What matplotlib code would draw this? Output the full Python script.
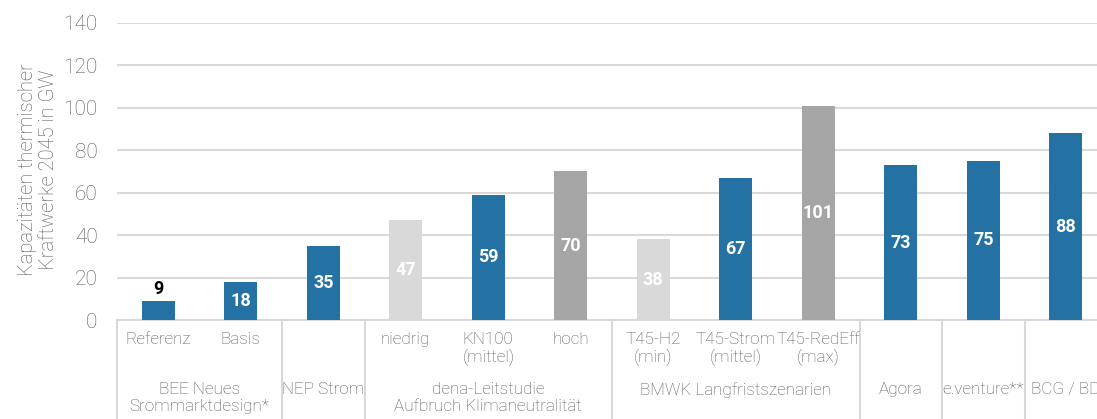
import matplotlib
matplotlib.use("Agg")
import matplotlib.pyplot as plt
import matplotlib.transforms as mtransforms

# data
scenarios = ["Referenz", "Basis", "", "niedrig", "KN100\n(mittel)", "hoch",
             "T45-H2\n(min)", "T45-Strom\n(mittel)", "T45-RedEff\n(max)", "", "", ""]
values = [9, 18, 35, 47, 59, 70, 38, 67, 101, 73, 75, 88]
kinds = ["b", "b", "b", "l", "b", "m", "l", "b", "m", "b", "b", "b"]
groups = ["BEE Neues\nSrommarktdesign*", "NEP Strom", "dena-Leitstudie\nAufbruch Klimaneutralität",
          "BMWK Langfristszenarien", "Agora", "e.venture**", "BCG / BD"]
group_sizes = [2, 1, 3, 3, 1, 1, 1]

colors = {"b": "#2372A3", "l": "#D9D9D9", "m": "#A5A5A5"}
GRID = "#D9D9D9"
TXT = "#595959"
plt.rcParams["font.family"] = ["Roboto", "DejaVu Sans"]

fig = plt.figure(figsize=(10.97, 4.19), dpi=100)
W, H = 1097, 419
ax = fig.add_axes([117 / W, 99 / H, (W - 117) / W, (320 - 23) / H])

x = list(range(len(values)))
ax.bar(x, values, width=0.4, color=[colors[k] for k in kinds], zorder=3)
ax.set_xlim(-0.5, (W - 117) / 82.5 - 0.5)
ax.set_ylim(0, 140)
ax.set_yticks(range(0, 141, 20))
ax.tick_params(axis="y", length=0, pad=14, labelsize=15, labelcolor=TXT)
for lab in ax.get_yticklabels():
    lab.set_fontweight("light")
ax.set_xticks([])
ax.grid(axis="y", color=GRID, linewidth=1.5, zorder=0)
for s in ["top", "right", "left"]:
    ax.spines[s].set_visible(False)
ax.spines["bottom"].set_color(GRID)
ax.spines["bottom"].set_linewidth(1.5)

# value labels
for xi, v, k in zip(x, values, kinds):
    if v < 12:
        ax.text(xi, v + 1.5, str(v), ha="center", va="bottom", fontsize=13,
                fontweight="bold", color="black")
    else:
        ax.text(xi, v / 2, str(v), ha="center", va="center", fontsize=13,
                fontweight="bold", color="white", zorder=4)

trans = mtransforms.blended_transform_factory(ax.transData, ax.transAxes)
for xi, s in zip(x, scenarios):
    if s:
        ax.text(xi, -12 / 297, s, transform=trans, ha="center", va="top",
                fontsize=12.3, color=TXT, fontweight="light", linespacing=1.15)

start = 0
seps = [-0.5]
for g, n in zip(groups, group_sizes):
    ax.text(start + (n - 1) / 2, -62 / 297, g, transform=trans, ha="center", va="top",
            fontsize=12.3, color=TXT, fontweight="light", linespacing=1.15)
    start += n
    seps.append(start - 0.5)
for sx in seps:
    ax.plot([sx, sx], [0, -0.4], transform=trans, color=GRID, linewidth=1.5, clip_on=False)

fig.text(38 / W, 1 - 170 / H, "Kapazitäten thermischer\nKraftwerke 2045 in GW", rotation=90,
         ha="center", va="center", fontsize=14.5, color=TXT, fontweight="light", linespacing=1.15)

fig.savefig("out.png", dpi=100)
